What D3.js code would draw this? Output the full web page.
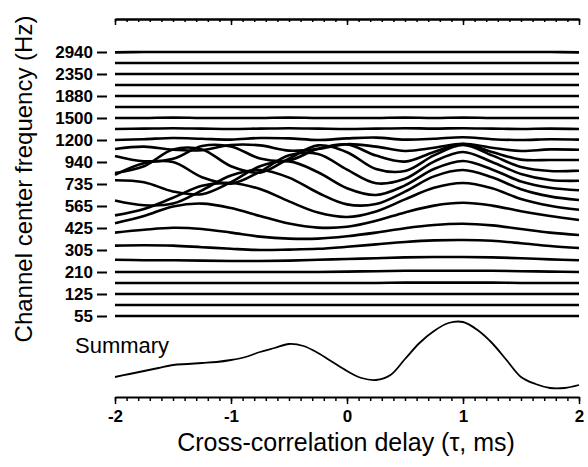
<!DOCTYPE html>
<html>
<head>
<meta charset="utf-8">
<script src="https://cdn.jsdelivr.net/npm/d3@7"></script>
<style>
  body { margin: 0; background: #fff; }
  svg { display: block; font-family: "Liberation Sans", Arial, Helvetica, sans-serif; }
</style>
</head>
<body>
<script>
const delays = [-2, -1.75, -1.5, -1.25, -1, -0.75, -0.5, -0.25, 0, 0.25, 0.5, 0.75, 1, 1.25, 1.5, 1.75, 2];

// channel centre frequencies (Hz), bottom to top
const channelFreqs = [55, 90, 125, 165, 210, 255, 305, 362, 425, 492, 565, 645, 735, 832, 940,
  1062, 1200, 1340, 1500, 1680, 1880, 2100, 2350, 2630, 2940];

// the labelled channels
const tickFreqs = [55, 125, 210, 305, 425, 565, 735, 940, 1200, 1500, 1880, 2350, 2940];
const xTicks = [-2, -1, 0, 1, 2];

// normalised cross-correlation per channel (one row per channel, same order as channelFreqs)
const corr = [
  [0,0,0,0,0,0,0,0,0,0,0,0,0,0,0,0,0],                                            // 55
  [0,0,0,0,0,0,0,0,0,0,0,0,0,0,0,0,0],                                            // 90
  [0,0,0,0,0,0,0,0,0,0,0,0,0,0,0,0,0],                                            // 125
  [0,0,0,0,0,0,0,0,0,0,0.01,0.01,0.01,0.01,0,0,0],                                // 165
  [0,0,0,0,0,0,0,0,0.01,0.02,0.03,0.03,0.03,0.03,0.02,0.01,0],                    // 210
  [0.03,0.02,0.02,0.01,0,0,0.01,0.03,0.05,0.07,0.09,0.1,0.1,0.09,0.07,0.04,0.02], // 255
  [0.11,0.12,0.11,0.07,0.03,0,0.01,0.03,0.08,0.14,0.2,0.24,0.25,0.23,0.17,0.1,0.05],
  [0.16,0.23,0.28,0.25,0.16,0.06,0.01,0.01,0.07,0.16,0.27,0.35,0.38,0.34,0.25,0.16,0.1],
  [0.12,0.3,0.54,0.61,0.5,0.3,0.11,0.01,0.03,0.18,0.39,0.56,0.63,0.56,0.42,0.3,0.2],
  [0.04,0.2,0.48,0.78,0.85,0.7,0.39,0.11,0,0.14,0.44,0.73,0.85,0.72,0.45,0.28,0.18],
  [0.14,0.02,0.06,0.39,0.76,0.9,0.71,0.33,0.04,0.05,0.36,0.74,0.9,0.72,0.42,0.24,0.15],
  [0.37,0.32,0.09,0.02,0.32,0.72,0.84,0.57,0.17,0,0.24,0.65,0.85,0.64,0.34,0.18,0.12],
  [0.23,0.52,0.55,0.17,0.01,0.31,0.72,0.75,0.36,0.02,0.13,0.56,0.8,0.55,0.25,0.1,0.08],
  [0,0.17,0.59,0.59,0.17,0.01,0.36,0.69,0.52,0.1,0.05,0.44,0.7,0.44,0.15,0.05,0.06],
  [0.15,0.02,0.08,0.4,0.39,0.09,0.04,0.33,0.44,0.16,0.01,0.25,0.45,0.25,0.06,0.05,0.05],
  [0.05,0.11,0.03,0.02,0.15,0.14,0.01,0.05,0.17,0.11,0,0.08,0.18,0.08,0,0.04,0.03],
  [0,0.02,0.05,0.03,0.01,0.05,0.04,0,0.04,0.06,0.01,0.03,0.07,0.02,0,0.02,0.01],  // 1200
  [0,0.01,0.02,0.01,0,0.01,0.02,0.01,0,0.01,0.02,0.01,0.02,0.01,0,0.01,0],
  [0,0,0.01,0,0,0,0.01,0,0,0,0.01,0,0.01,0,0,0,0],
  [0,0,0,0,0,0,0,0,0,0,0,0,0,0,0,0,0],
  [0,0,0,0,0,0,0,0,0,0,0,0,0,0,0,0,0],
  [0,0,0,0,0,0,0,0,0,0,0,0,0,0,0,0,0],
  [0,0,0,0,0,0,0,0,0,0,0,0,0,0,0,0,0],
  [0,0,0,0,0,0,0,0,0,0,0,0,0,0,0,0,0],
  [-0.01,0,0,0,0,0,0,0,0,0,0,0,0,0,0,0,-0.01]                                      // 2940
];

// summary (across-channel) correlation
const summaryDelays = [-2, -1.875, -1.75, -1.625, -1.5, -1.375, -1.25, -1.125, -1, -0.875, -0.75,
  -0.625, -0.5, -0.375, -0.25, -0.125, 0, 0.125, 0.25, 0.375, 0.5, 0.625, 0.75, 0.875, 1,
  1.125, 1.25, 1.375, 1.5, 1.625, 1.75, 1.875, 2];
const summaryValues = [13, 16, 19, 22, 25, 26, 27, 28, 30, 33, 38, 42, 46, 44, 37, 28, 19, 12, 10,
  15, 31, 47, 59, 67, 68, 60, 47, 30, 13, 6, 2, 2, 5];

const width = 588, height = 467;

const svg = d3.select("body").append("svg")
  .attr("width", width)
  .attr("height", height);

const x = d3.scaleLinear().domain([-2, 2]).range([115, 579]);
const yChan = d3.scalePoint().domain(channelFreqs).range([316, 52]);
const amp = d3.scaleLinear().domain([0, 1]).range([0, 40]);
const ySum = d3.scaleLinear().domain([0, 68]).range([390, 322]);

const minorTicks = d3.range(-20, 21).map(d => d / 10);

// top axis: ticks hang down from the line
function topAxis(g, size, vals) {
  g.attr("transform", "translate(0,19)")
    .call(d3.axisBottom(x).tickValues(vals).tickSize(size).tickSizeOuter(0).tickFormat(""));
  g.select(".domain").attr("stroke-width", 2);
  g.selectAll(".tick line").attr("stroke-width", 1.5);
}
svg.append("g").call(topAxis, 3, minorTicks);
svg.append("g").call(topAxis, 6, xTicks);

// bottom axis
const bottom = svg.append("g").attr("transform", "translate(0,397)");
bottom.append("g")
  .call(d3.axisBottom(x).tickValues(minorTicks).tickSize(4).tickSizeOuter(0).tickFormat(""))
  .call(g => g.select(".domain").attr("stroke-width", 2))
  .call(g => g.selectAll(".tick line").attr("stroke-width", 1.5));
bottom.append("g")
  .call(d3.axisBottom(x).tickValues(xTicks).tickSize(7).tickPadding(6).tickSizeOuter(0)
    .tickFormat(d => String(d)))
  .call(g => g.select(".domain").remove())
  .call(g => g.selectAll(".tick line").attr("stroke-width", 1.5))
  .call(g => g.selectAll("text")
    .attr("font-family", "Liberation Sans, Arial, sans-serif")
    .attr("font-size", 17).attr("font-weight", "bold").attr("fill", "#000"));

// channel labels on the left
svg.append("g")
  .attr("transform", "translate(107,0)")
  .call(d3.axisLeft(yChan).tickValues(tickFreqs).tickSize(10).tickPadding(4))
  .call(g => g.select(".domain").remove())
  .call(g => g.selectAll(".tick line").attr("stroke-width", 2))
  .call(g => g.selectAll("text")
    .attr("font-family", "Liberation Sans, Arial, sans-serif")
    .attr("font-size", 17).attr("font-weight", "bold").attr("fill", "#000"));

// one line per channel
const line = d3.line()
  .x((d, i) => x(delays[i]))
  .curve(d3.curveCatmullRom);

svg.append("g")
  .selectAll("path")
  .data(corr)
  .enter()
    .append("path")
      .attr("fill", "none")
      .attr("stroke", "#000")
      .attr("stroke-width", 2.6)
      .attr("stroke-linejoin", "round")
      .attr("d", function(row, c) {
        var base = yChan(channelFreqs[c]);
        return line.y(d => base - amp(d))(row);
      });

// summary curve
const sumLine = d3.line()
  .x((d, i) => x(summaryDelays[i]))
  .y(d => ySum(d))
  .curve(d3.curveCatmullRom);

svg.append("path")
  .datum(summaryValues)
  .attr("fill", "none")
  .attr("stroke", "#000")
  .attr("stroke-width", 1.8)
  .attr("d", sumLine);

svg.append("text")
  .attr("x", 75).attr("y", 353)
  .attr("font-size", 22)
  .text("Summary");

// axis titles
svg.append("text")
  .attr("x", 346).attr("y", 451)
  .attr("text-anchor", "middle")
  .attr("font-size", 25)
  .text("Cross-correlation delay (\u03c4, ms)");

svg.append("text")
  .attr("transform", "translate(32,179) rotate(-90)")
  .attr("text-anchor", "middle")
  .attr("font-size", 24)
  .text("Channel center frequency (Hz)");
</script>
</body>
</html>
